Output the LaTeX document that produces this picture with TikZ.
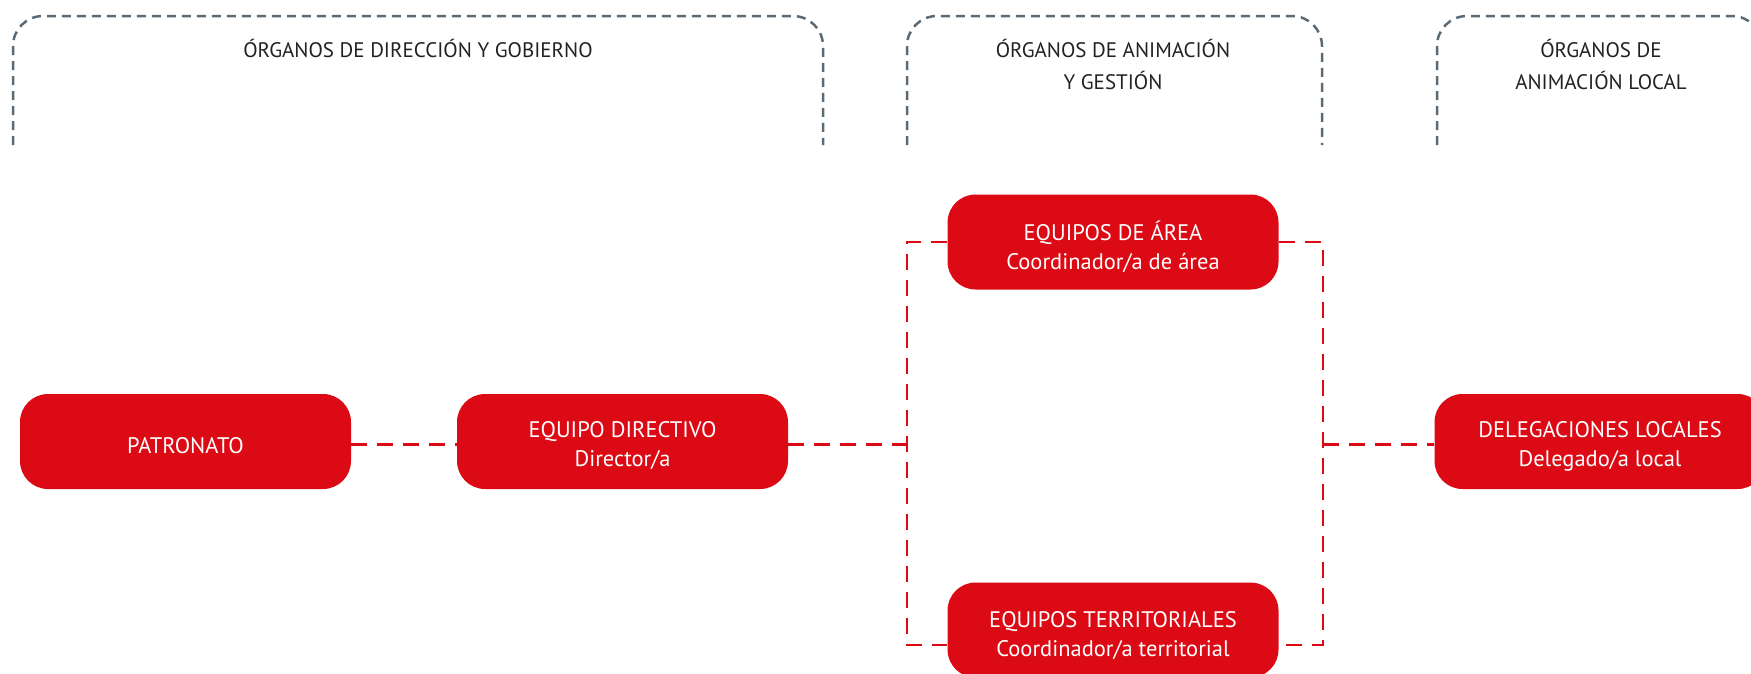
\documentclass[tikz,border=0pt]{standalone}
\usepackage{fontspec}
\setmainfont{PT Sans}
\definecolor{boxred}{HTML}{DC0A14}
\definecolor{bracketgray}{HTML}{5B6B76}
\definecolor{headtext}{HTML}{222222}
\begin{document}
\begin{tikzpicture}[x=1pt,y=-1pt,
  orgbox/.style={draw=none,fill=boxred,rounded corners=28pt,minimum width=331pt,minimum height=95pt,inner sep=0pt},
  boxtext/.style={text=white,font=\fontsize{22.5}{29}\selectfont,align=center,inner sep=0pt},
  bracket/.style={draw=bracketgray,line width=2.5pt,dash pattern=on 9pt off 6pt,rounded corners=30pt},
  link/.style={draw=boxred,line width=2.2pt,dash pattern=on 16pt off 10pt},
  head/.style={text=headtext,font=\fontsize{21}{32}\selectfont,align=center,inner sep=0pt}]
\useasboundingbox (0,0) rectangle (1751,673);
\clip (0,0) rectangle (1751,673);
% brackets
\draw[bracket] (13,145) -- (13,16) -- (823,16) -- (823,145);
\draw[bracket] (907,145) -- (907,16) -- (1322,16) -- (1322,145);
\draw[bracket] (1437,145) -- (1437,16) -- (1762,16) -- (1762,145);
% headers
\node[head] (h1) at (418,48) {ÓRGANOS DE DIRECCIÓN Y GOBIERNO};
\node[head] (h2) at (1113,64) {ÓRGANOS DE ANIMACIÓN\\Y GESTIÓN};
\node[head] (h3) at (1601,64) {ÓRGANOS DE\\ANIMACIÓN LOCAL};
% boxes
\node[orgbox] (pat) at (185.5,441.5) {};
\node[boxtext] (patT) at (185.5,445.5) {PATRONATO};
\node[orgbox] (dir) at (622.5,441.5) {};
\node[boxtext] (dirT) at (622.5,446) {EQUIPO DIRECTIVO\\Director/a};
\node[orgbox] (area) at (1113,242) {};
\node[boxtext] (areaT) at (1113,247) {EQUIPOS DE ÁREA\\Coordinador/a de área};
\node[orgbox] (terr) at (1113,630) {};
\node[boxtext] (terrT) at (1113,636) {EQUIPOS TERRITORIALES\\Coordinador/a territorial};
\node[orgbox] (del) at (1600,441.5) {};
\node[boxtext] (delT) at (1600,446) {DELEGACIONES LOCALES\\Delegado/a local};
% connector coordinates
\coordinate (lt) at (907,242);
\coordinate (lb) at (907,645);
\coordinate (jl) at (907,444.5);
\coordinate (rt) at (1323,242);
\coordinate (rb) at (1323,645);
\coordinate (jr) at (1323,444.5);
% connectors
\draw[link] ([yshift=-3pt]pat.east) -- ([yshift=-3pt]dir.west);
\draw[link] ([yshift=-3pt]dir.east) -- (jl);
\draw[link] (area.west) -- (lt) -- (lb) -- (lb -| terr.west);
\draw[link] (area.east) -- (rt) -- (rb) -- (rb -| terr.east);
\draw[link] (jr) -- ([yshift=-3pt]del.west);
\end{tikzpicture}
\end{document}
